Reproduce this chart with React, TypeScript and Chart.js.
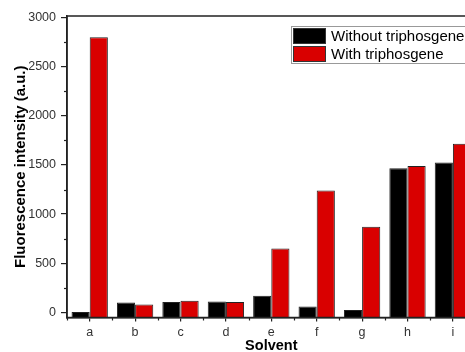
import React, { useEffect, useRef } from "react";
import { Chart, registerables } from "chart.js";

Chart.register(...registerables);

const categories = ["a", "b", "c", "d", "e", "f", "g", "h", "i"];
const withoutTriphosgene = [5, 100, 105, 110, 170, 60, 25, 1465, 1525];
const withTriphosgene = [2800, 80, 118, 105, 650, 1240, 870, 1490, 1715];
const yTicks = [0, 500, 1000, 1500, 2000, 2500, 3000];
const yMinorTicks = [250, 750, 1250, 1750, 2250, 2750];
const seriesNames = ["Without triphosgene", "With triphosgene"];
const yMin = -52;
const yMax = 3015;

const FONT = "'Liberation Sans', Arial, Helvetica, sans-serif";
const RED = "#d90000";
const BLACK = "#000000";

const decor = {
  id: "decor",
  afterDraw(chart: any) {
    const ctx = chart.ctx;
    const a = chart.chartArea;
    const y = chart.scales.y;
    const x = chart.scales.x;
    ctx.save();
    // frame
    ctx.strokeStyle = "#222";
    ctx.lineWidth = 1.5;
    ctx.strokeRect(a.left, a.top, a.right - a.left, a.bottom - a.top);
    // minor y ticks
    ctx.lineWidth = 1.2;
    yMinorTicks.forEach((v) => {
      const py = Math.round(y.getPixelForValue(v)) + 0.5;
      ctx.beginPath();
      ctx.moveTo(a.left - 3, py);
      ctx.lineTo(a.left, py);
      ctx.stroke();
    });
    // minor x ticks at boundaries
    const step = x.getPixelForValue(1) - x.getPixelForValue(0);
    for (let i = 0; i <= categories.length; i++) {
      const px = x.getPixelForValue(0) + (i - 0.5) * step;
      ctx.beginPath();
      ctx.moveTo(Math.round(px) + 0.5, a.bottom);
      ctx.lineTo(Math.round(px) + 0.5, a.bottom + 3);
      ctx.stroke();
    }
    // axis titles
    ctx.fillStyle = "#000";
    ctx.font = `bold 15px ${FONT}`;
    ctx.textAlign = "center";
    ctx.textBaseline = "middle";
    ctx.save();
    ctx.translate(21, (a.top + a.bottom) / 2);
    ctx.rotate(-Math.PI / 2);
    ctx.fillText("Fluorescence intensity (a.u.)", 0, 0);
    ctx.restore();
    ctx.font = `bold 14.5px ${FONT}`;
    ctx.fillText("Solvent", (a.left + a.right) / 2, 345.5);
    // legend
    const lx = a.left + 224;
    const ly = 26;
    ctx.fillStyle = "#fff";
    ctx.fillRect(lx, ly, 200, 37);
    ctx.strokeStyle = "#999";
    ctx.lineWidth = 1;
    ctx.strokeRect(lx + 0.5, ly + 0.5, 200, 37);
    const colors = [BLACK, RED];
    seriesNames.forEach((name, i) => {
      const sy = ly + 2 + i * 18;
      ctx.fillStyle = colors[i];
      ctx.fillRect(lx + 2, sy, 33, 16);
      ctx.strokeStyle = "#333";
      ctx.strokeRect(lx + 2.5, sy + 0.5, 32, 15);
      ctx.fillStyle = "#000";
      ctx.font = `15px ${FONT}`;
      ctx.textAlign = "left";
      ctx.textBaseline = "middle";
      ctx.fillText(name, lx + 40, sy + 8.5);
    });
    ctx.restore();
  },
};

export default function App() {
  const ref = useRef<HTMLCanvasElement>(null);
  useEffect(() => {
    if (!ref.current) return;
    const chart = new Chart(ref.current, {
      type: "bar",
      data: {
        labels: categories,
        datasets: [
          {
            label: seriesNames[0],
            data: withoutTriphosgene,
            backgroundColor: BLACK,
            borderColor: "#222",
            borderWidth: 1,
            base: yMin,
          } as any,
          {
            label: seriesNames[1],
            data: withTriphosgene,
            backgroundColor: RED,
            borderColor: "#222",
            borderWidth: 1,
            base: yMin,
          } as any,
        ],
      },
      options: {
        responsive: false,
        animation: false,
        devicePixelRatio: 1,
        layout: { padding: { top: 16, right: 24.4, left: 0, bottom: 0 } },
        datasets: { bar: { barPercentage: 1, categoryPercentage: 0.8 } },
        plugins: { legend: { display: false }, tooltip: { enabled: false } },
        scales: {
          x: {
            grid: {
              display: true,
              drawOnChartArea: false,
              drawTicks: true,
              tickLength: 4,
              offset: false,
              color: "#222",
              lineWidth: 1.2,
            },
            border: { display: true, color: "#222", width: 1.5 },
            ticks: {
              color: "#333",
              font: { family: FONT, size: 12.5 },
              padding: 4,
              maxRotation: 0,
            },
            afterFit(scale: any) {
              scale.height = 34.5;
            },
          },
          y: {
            min: yMin,
            max: yMax,
            afterBuildTicks(scale: any) {
              scale.ticks = yTicks.map((v) => ({ value: v }));
            },
            grid: {
              display: true,
              drawOnChartArea: false,
              drawTicks: true,
              tickLength: 6,
              color: "#222",
              lineWidth: 1.2,
            },
            border: { display: true, color: "#222", width: 1.5 },
            ticks: {
              color: "#333",
              font: { family: FONT, size: 12.5 },
              padding: 5,
              callback: (v: any) => String(v),
            },
            afterFit(scale: any) {
              scale.width = 67;
            },
          },
        },
      },
      plugins: [decor],
    });
    return () => chart.destroy();
  }, []);
  return (
    <div
      style={{
        position: "fixed",
        left: 0,
        top: 0,
        width: 465,
        height: 352,
        overflow: "hidden",
        background: "#fff",
      }}
    >
      <canvas ref={ref} width={500} height={352} style={{ width: 500, height: 352, display: "block" }} />
    </div>
  );
}
